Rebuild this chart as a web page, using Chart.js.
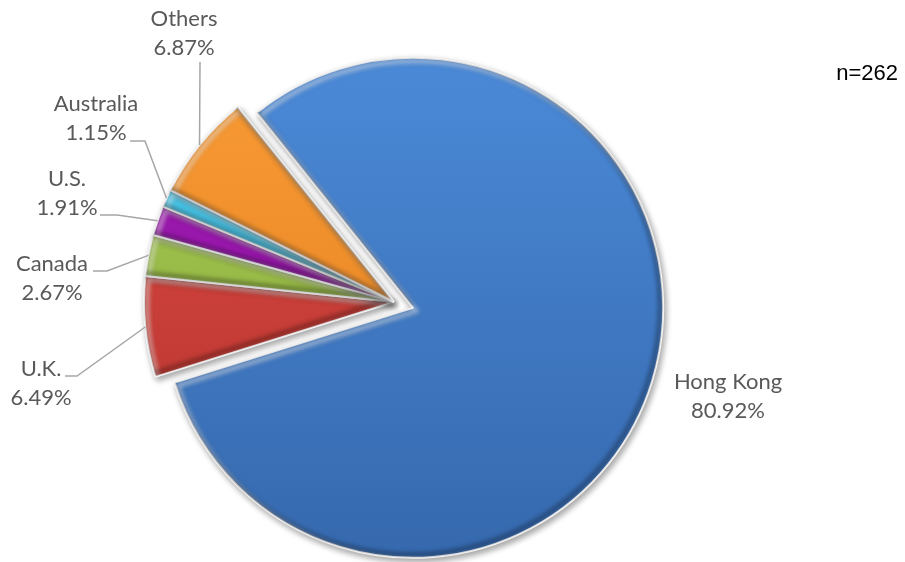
<!DOCTYPE html>
<html lang="en">
<head>
  <meta charset="UTF-8">
  <title>Respondents by place</title>
  <script src="https://cdn.jsdelivr.net/npm/chart.js"></script>
  <style>
    body { margin: 0; background: #fff; }
  </style>
</head>
<body>

  <canvas id="myChart" width="905" height="562"></canvas>

  <script>
    // data
    const countries = ['Hong Kong', 'U.K.', 'Canada', 'U.S.', 'Australia', 'Others'];
    const shares = [80.92, 6.49, 2.67, 1.91, 1.15, 6.87];
    const sampleSize = 262;

    // slice colours, light (top) and dark (bottom)
    const lightColors = ['#4b8ad8', '#dc4a43', '#a9cc55', '#a81fbb', '#55d2f2', '#f99b35'];
    const darkColors  = ['#3669ae', '#b5322d', '#84a638', '#7d0b90', '#2aa6cf', '#df7e1f'];

    // where each label sits: text centre, baseline of first line, elbow of leader line
    const labelPos = [
      { x: 728, y: 389, elbow: null },
      { x: 41,  y: 376, elbow: [[65, 376], [77, 376]] },
      { x: 52,  y: 271, elbow: [[93, 271], [107, 271]] },
      { x: 67,  y: 186, elbow: [[100, 215], [117, 215]] },
      { x: 96,  y: 111, elbow: [[130, 141], [145, 141]] },
      { x: 184, y: 26,  elbow: [[200, 62]] }
    ];

    const explodeFirst = 20;

    function sliceFill(context) {
      const i = context.dataIndex;
      const area = context.chart.chartArea;
      if (!area) return lightColors[i];
      const g = context.chart.ctx.createLinearGradient(0, area.top, 0, area.bottom);
      g.addColorStop(0, lightColors[i]);
      g.addColorStop(1, darkColors[i]);
      return g;
    }

    function slicePath(c, arc) {
      c.beginPath();
      c.moveTo(arc.x, arc.y);
      c.arc(arc.x, arc.y, arc.outerRadius, arc.startAngle, arc.endAngle);
      c.closePath();
    }

    // pull the Hong Kong slice out from the centre, drop shadow under all slices
    const explodePlugin = {
      id: 'explode',
      beforeDatasetsDraw(chart) {
        const area = chart.chartArea;
        const cx = (area.left + area.right) / 2;
        const cy = (area.top + area.bottom) / 2;
        chart.getDatasetMeta(0).data.forEach((arc, i) => {
          const mid = (arc.startAngle + arc.endAngle) / 2;
          const d = i === 0 ? explodeFirst : 0;
          arc.x = cx + Math.cos(mid) * d;
          arc.y = cy + Math.sin(mid) * d;
        });
        const c = chart.ctx;
        c.save();
        c.shadowColor = 'rgba(0,0,0,0.35)';
        c.shadowBlur = 6;
        c.shadowOffsetX = 2;
        c.shadowOffsetY = 3;
      },
      afterDatasetsDraw(chart) {
        const c = chart.ctx;
        c.restore();
        // soft bevel: light rim on upper-left edges, dark rim on lower-right edges
        chart.getDatasetMeta(0).data.forEach(arc => {
          c.save();
          slicePath(c, arc);
          c.clip();
          c.filter = 'blur(2px)';
          c.lineJoin = 'round';
          c.save();
          c.translate(3, 3);
          slicePath(c, arc);
          c.strokeStyle = 'rgba(255,255,255,0.45)';
          c.lineWidth = 5;
          c.stroke();
          c.restore();
          c.save();
          c.translate(-3, -3);
          slicePath(c, arc);
          c.strokeStyle = 'rgba(0,0,0,0.3)';
          c.lineWidth = 5;
          c.stroke();
          c.restore();
          c.restore();
        });
      }
    };

    // category labels with leader lines, plus sample size
    const labelPlugin = {
      id: 'sliceLabels',
      afterDraw(chart) {
        const c = chart.ctx;
        const arcs = chart.getDatasetMeta(0).data;
        c.save();
        c.font = '22px Lato';
        c.fillStyle = '#595959';
        c.textAlign = 'center';
        c.textBaseline = 'alphabetic';
        arcs.forEach((arc, i) => {
          const p = labelPos[i];
          c.fillText(countries[i], p.x, p.y);
          c.fillText(shares[i].toFixed(2) + '%', p.x, p.y + 29);
          if (p.elbow) {
            const mid = (arc.startAngle + arc.endAngle) / 2;
            const ex = arc.x + Math.cos(mid) * arc.outerRadius;
            const ey = arc.y + Math.sin(mid) * arc.outerRadius;
            c.beginPath();
            c.moveTo(p.elbow[0][0], p.elbow[0][1]);
            for (let k = 1; k < p.elbow.length; k++) c.lineTo(p.elbow[k][0], p.elbow[k][1]);
            c.lineTo(ex, ey);
            c.strokeStyle = '#a6a6a6';
            c.lineWidth = 1.5;
            c.stroke();
          }
        });
        c.font = '22px "Liberation Sans"';
        c.fillStyle = '#000';
        c.textAlign = 'right';
        c.fillText('n=' + sampleSize, 898, 80);
        c.restore();
      }
    };

    const config = {
      type: 'pie',
      data: {
        labels: countries,
        datasets: [{
          data: shares,
          backgroundColor: sliceFill,
          borderColor: '#f4f4f4',
          borderWidth: 2
        }]
      },
      options: {
        responsive: false,
        animation: false,
        rotation: -38.7,
        layout: { padding: { left: 143, right: 260, top: 51, bottom: 9 } },
        plugins: {
          legend: { display: false },
          tooltip: { enabled: false }
        }
      },
      plugins: [explodePlugin, labelPlugin]
    };

    const ctx = document.getElementById('myChart').getContext('2d');
    const myChart = new Chart(ctx, config);
  </script>

</body>
</html>
